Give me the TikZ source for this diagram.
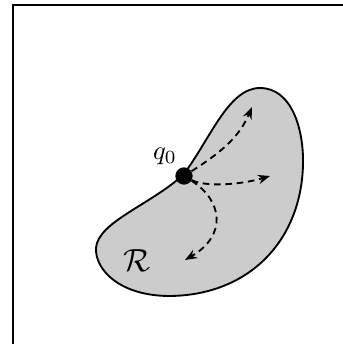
\documentclass[tikz,border=0pt]{standalone}
\usepackage{amsmath, amssymb}
\usepackage{tikz}
\usepackage{xcolor}
\usetikzlibrary{arrows.meta}

\begin{document}
\begin{tikzpicture}[x=0.75pt,y=0.75pt,yscale=-1,xscale=1]
\useasboundingbox (0,0) rectangle (343,344);

%Frame
\draw [line width=1.6pt]  (13,344) -- (13,5) -- (343,5) ;

%Region R
\draw [line width=1.4pt, fill={rgb, 255:red, 204; green, 204; blue, 204 }]  (183,175) .. controls (210,140) and (228,88) .. (260,88) .. controls (292,88) and (304,130) .. (303,165) .. controls (301,240) and (250,295) .. (170,296) .. controls (120,296) and (95,270) .. (96,248) .. controls (98,222) and (150,205) .. (183,175) -- cycle ;

%Start point
\node (q0) [circle, fill=black, inner sep=0pt, minimum size=13] at (184,176) {};
\coordinate (t1) at (252,107) ;
\coordinate (t2) at (270,176) ;
\coordinate (t3) at (185,260) ;

%Dashed trajectories
\draw [line width=1.4pt, dash pattern={on 5pt off 3.5pt}, -{Stealth[length=9pt,width=7pt]}]  (q0) .. controls (225,150) and (240,135) .. (t1) ;
\draw [line width=1.4pt, dash pattern={on 5pt off 3.5pt}, -{Stealth[length=9pt,width=7pt]}]  (q0) .. controls (205,187) and (240,185) .. (t2) ;
\draw [line width=1.4pt, dash pattern={on 5pt off 3.5pt}, -{Stealth[length=9pt,width=7pt]}]  (q0) .. controls (222,200) and (228,235) .. (t3) ;

% Text Node
\node (lq) at (165,156) [inner sep=0.75pt, scale=2.0] {$q_0$};
% Text Node
\node (lr) at (137,261) [inner sep=0.75pt, scale=2.4] {$\mathcal{R}$};

\end{tikzpicture}
\end{document}
